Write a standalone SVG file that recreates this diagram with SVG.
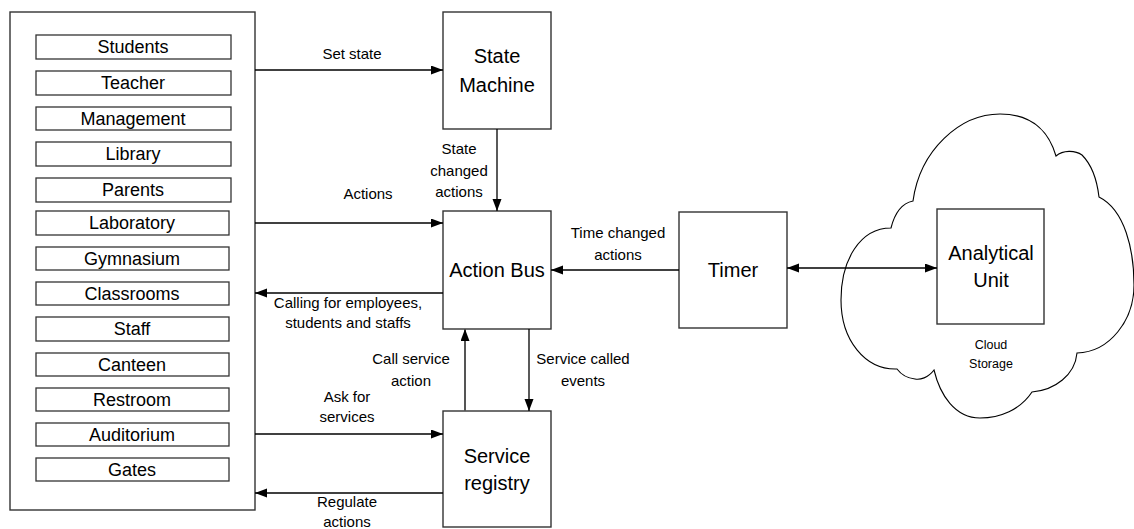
<svg xmlns="http://www.w3.org/2000/svg" width="1134" height="529" viewBox="0 0 1134 529">
<defs>
<style>
text{font-family:"Liberation Sans",Arial,sans-serif;fill:#000;text-anchor:middle}
.box{fill:#fff;stroke:#333;stroke-width:1.4}
.item{fill:#fff;stroke:#333;stroke-width:1.3}
.it{font-size:18px}
.ttl{font-size:20px}
.lbl{font-size:15px}
.sm{font-size:12.5px}
.con{fill:none;stroke:#000;stroke-width:1.3}
.grey{stroke:#555;stroke-width:2}
.cloud{fill:#fff;stroke:#000;stroke-width:1.1}
</style>
<marker id="ah" markerUnits="userSpaceOnUse" markerWidth="13" markerHeight="10" refX="12" refY="4.5" orient="auto-start-reverse">
<path d="M0,0 L12,4.5 L0,9 z" fill="#000"/>
</marker>
</defs>
<rect width="1134" height="529" fill="#fff"/>

<g id="cloud-storage">
<path class="cloud" d="M913,201 C920,150 960,114 1000,114 C1035,114 1050,135 1056,156 C1063,150 1075,150 1082,155 C1092,165 1097,180 1099,197 C1125,210 1134,250 1134,285 C1134,320 1110,352 1077,353 C1075,375 1055,390 1032,392 C1020,410 1000,418 980,418 C955,418 940,395 934,370 C928,378 920,380 915,379 C905,378 900,373 897,369 C865,370 841,340 841,300 C841,260 860,228 891,228 C895,212 903,203 913,201 Z"/>
<text class="sm" x="991" y="349">Cloud</text>
<text class="sm" x="991" y="368">Storage</text>
</g>

<g id="entities">
<rect class="box" x="10" y="12" width="245" height="498"/>
<g id="students"><rect class="item" x="36" y="35" width="195" height="24"/><text class="it" x="133" y="53">Students</text></g>
<g id="teacher"><rect class="item" x="36" y="71" width="195" height="24"/><text class="it" x="133" y="89">Teacher</text></g>
<g id="management"><rect class="item" x="36" y="107" width="195" height="23"/><text class="it" x="133" y="124.5">Management</text></g>
<g id="library"><rect class="item" x="36" y="142" width="195" height="24"/><text class="it" x="133" y="160">Library</text></g>
<g id="parents"><rect class="item" x="36" y="178" width="195" height="24"/><text class="it" x="133" y="196">Parents</text></g>
<g id="laboratory"><rect class="item" x="36" y="211" width="193" height="24"/><text class="it" x="132" y="229">Laboratory</text></g>
<g id="gymnasium"><rect class="item" x="36" y="247" width="193" height="23"/><text class="it" x="132" y="264.5">Gymnasium</text></g>
<g id="classrooms"><rect class="item" x="36" y="282" width="193" height="23"/><text class="it" x="132" y="299.5">Classrooms</text></g>
<g id="staff"><rect class="item" x="36" y="317" width="193" height="24"/><text class="it" x="132" y="335">Staff</text></g>
<g id="canteen"><rect class="item" x="36" y="353" width="193" height="23"/><text class="it" x="132" y="370.5">Canteen</text></g>
<g id="restroom"><rect class="item" x="36" y="388" width="193" height="23"/><text class="it" x="132" y="405.5">Restroom</text></g>
<g id="auditorium"><rect class="item" x="36" y="423" width="193" height="23"/><text class="it" x="132" y="440.5">Auditorium</text></g>
<g id="gates"><rect class="item" x="36" y="458" width="193" height="23"/><text class="it" x="132" y="475.5">Gates</text></g>
</g>

<g id="state-machine">
<rect class="box" x="443" y="12" width="108" height="117"/>
<text class="ttl" x="497" y="63">State</text>
<text class="ttl" x="497" y="92">Machine</text>
</g>

<g id="action-bus">
<rect class="box" x="443" y="211" width="108" height="118"/>
<text class="ttl" x="497" y="277">Action Bus</text>
</g>

<g id="service-registry">
<rect class="box" x="443" y="411" width="108" height="116"/>
<text class="ttl" x="497" y="463">Service</text>
<text class="ttl" x="497" y="490">registry</text>
</g>

<g id="timer">
<rect class="box" x="679" y="212" width="108" height="116"/>
<text class="ttl" x="733" y="277">Timer</text>
</g>

<g id="analytical-unit">
<rect class="box" x="937" y="209" width="107" height="115"/>
<text class="ttl" x="991" y="260">Analytical</text>
<text class="ttl" x="991" y="287">Unit</text>
</g>

<g id="connectors">
<line class="con" x1="255" y1="70" x2="443" y2="70" marker-end="url(#ah)"/>
<text class="lbl" x="352" y="59">Set state</text>

<line class="con" x1="497" y1="129" x2="497" y2="211" marker-end="url(#ah)"/>
<text class="lbl" x="459" y="154">State</text>
<text class="lbl" x="459" y="175.5">changed</text>
<text class="lbl" x="459" y="197">actions</text>

<line class="con" x1="255" y1="223" x2="443" y2="223" marker-end="url(#ah)"/>
<text class="lbl" x="368" y="199">Actions</text>

<line class="con" x1="443" y1="293" x2="255" y2="293" marker-end="url(#ah)"/>
<text class="lbl" x="348" y="308">Calling for employees,</text>
<text class="lbl" x="348" y="328">students and staffs</text>

<line class="con grey" x1="465" y1="411" x2="465" y2="329" marker-end="url(#ah)"/>
<text class="lbl" x="411" y="364">Call service</text>
<text class="lbl" x="411" y="386">action</text>

<line class="con" x1="529" y1="329" x2="529" y2="411" marker-end="url(#ah)"/>
<text class="lbl" x="583" y="364">Service called</text>
<text class="lbl" x="583" y="386">events</text>

<line class="con" x1="255" y1="434" x2="443" y2="434" marker-end="url(#ah)"/>
<text class="lbl" x="347" y="402">Ask for</text>
<text class="lbl" x="347" y="422">services</text>

<line class="con" x1="443" y1="493" x2="255" y2="493" marker-end="url(#ah)"/>
<text class="lbl" x="347" y="507">Regulate</text>
<text class="lbl" x="347" y="527">actions</text>

<line class="con" x1="679" y1="270" x2="551" y2="270" marker-end="url(#ah)"/>
<text class="lbl" x="618" y="238">Time changed</text>
<text class="lbl" x="618" y="260">actions</text>

<line class="con" x1="787" y1="268" x2="937" y2="268" marker-start="url(#ah)" marker-end="url(#ah)"/>
</g>
</svg>
